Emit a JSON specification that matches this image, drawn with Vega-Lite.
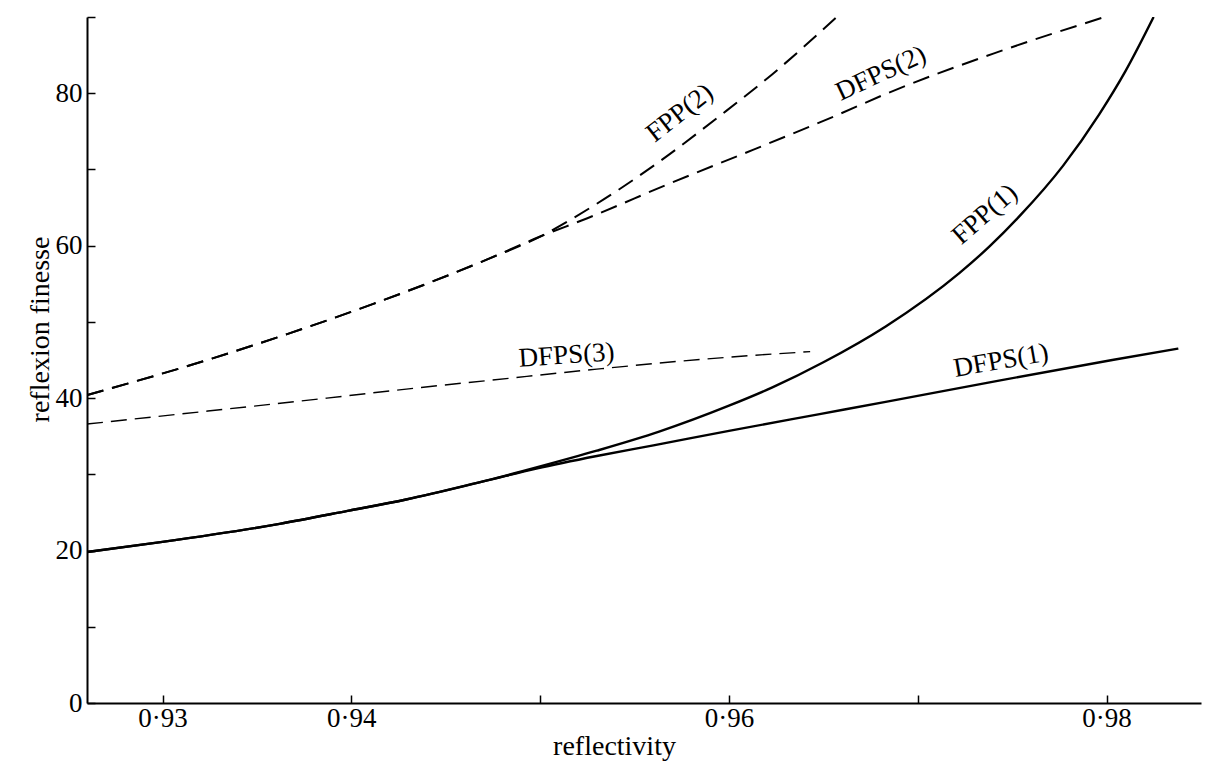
{
  "$schema": "https://vega.github.io/schema/vega-lite/v6.json",
  "width": 1114,
  "height": 686,
  "autosize": "none",
  "padding": {"left": 87, "top": 17, "right": 12, "bottom": 60},
  "background": "white",
  "config": {
    "view": {"stroke": null},
    "font": "Liberation Serif",
    "axis": {
      "grid": false,
      "domainColor": "black",
      "domainWidth": 2,
      "tickColor": "black",
      "tickWidth": 1.5,
      "tickSize": -8,
      "labelFont": "Liberation Serif",
      "labelFontSize": 27,
      "labelColor": "black",
      "titleFont": "Liberation Serif",
      "titleFontSize": 28,
      "titleFontWeight": "normal",
      "titleColor": "black"
    }
  },
  "datasets": {
    "curves": [
      {"series": "FPP(1)", "R": 0.9260, "F": 19.8},
      {"series": "FPP(1)", "R": 0.9299, "F": 21.1},
      {"series": "FPP(1)", "R": 0.9362, "F": 23.5},
      {"series": "FPP(1)", "R": 0.9398, "F": 25.2},
      {"series": "FPP(1)", "R": 0.9429, "F": 26.7},
      {"series": "FPP(1)", "R": 0.9472, "F": 29.2},
      {"series": "FPP(1)", "R": 0.9498, "F": 30.9},
      {"series": "FPP(1)", "R": 0.9530, "F": 33.1},
      {"series": "FPP(1)", "R": 0.9563, "F": 35.6},
      {"series": "FPP(1)", "R": 0.9600, "F": 39.0},
      {"series": "FPP(1)", "R": 0.9623, "F": 41.4},
      {"series": "FPP(1)", "R": 0.9650, "F": 44.7},
      {"series": "FPP(1)", "R": 0.9683, "F": 49.4},
      {"series": "FPP(1)", "R": 0.9722, "F": 56.4},
      {"series": "FPP(1)", "R": 0.9738, "F": 59.9},
      {"series": "FPP(1)", "R": 0.9754, "F": 63.9},
      {"series": "FPP(1)", "R": 0.9777, "F": 70.5},
      {"series": "FPP(1)", "R": 0.9796, "F": 77.2},
      {"series": "FPP(1)", "R": 0.9810, "F": 82.9},
      {"series": "FPP(1)", "R": 0.98249, "F": 90.0},

      {"series": "DFPS(1)", "R": 0.9260, "F": 19.8},
      {"series": "DFPS(1)", "R": 0.9299, "F": 21.1},
      {"series": "DFPS(1)", "R": 0.9362, "F": 23.5},
      {"series": "DFPS(1)", "R": 0.9398, "F": 25.2},
      {"series": "DFPS(1)", "R": 0.9429, "F": 26.7},
      {"series": "DFPS(1)", "R": 0.9472, "F": 29.2},
      {"series": "DFPS(1)", "R": 0.9498, "F": 30.75},
      {"series": "DFPS(1)", "R": 0.9530, "F": 32.4},
      {"series": "DFPS(1)", "R": 0.9560, "F": 33.8},
      {"series": "DFPS(1)", "R": 0.9600, "F": 35.7},
      {"series": "DFPS(1)", "R": 0.9648, "F": 37.9},
      {"series": "DFPS(1)", "R": 0.9683, "F": 39.5},
      {"series": "DFPS(1)", "R": 0.9743, "F": 42.3},
      {"series": "DFPS(1)", "R": 0.9803, "F": 45.0},
      {"series": "DFPS(1)", "R": 0.9838, "F": 46.5},

      {"series": "FPP(2)", "R": 0.9260, "F": 40.4},
      {"series": "FPP(2)", "R": 0.9325, "F": 45.1},
      {"series": "FPP(2)", "R": 0.9366, "F": 48.4},
      {"series": "FPP(2)", "R": 0.9412, "F": 52.4},
      {"series": "FPP(2)", "R": 0.9472, "F": 58.2},
      {"series": "FPP(2)", "R": 0.9500, "F": 61.2},
      {"series": "FPP(2)", "R": 0.9530, "F": 65.5},
      {"series": "FPP(2)", "R": 0.9563, "F": 71.0},
      {"series": "FPP(2)", "R": 0.9595, "F": 77.0},
      {"series": "FPP(2)", "R": 0.9623, "F": 82.5},
      {"series": "FPP(2)", "R": 0.9657, "F": 90.0},

      {"series": "DFPS(2)", "R": 0.9260, "F": 40.4},
      {"series": "DFPS(2)", "R": 0.9325, "F": 45.1},
      {"series": "DFPS(2)", "R": 0.9366, "F": 48.4},
      {"series": "DFPS(2)", "R": 0.9412, "F": 52.4},
      {"series": "DFPS(2)", "R": 0.9472, "F": 58.2},
      {"series": "DFPS(2)", "R": 0.9500, "F": 61.2},
      {"series": "DFPS(2)", "R": 0.9525, "F": 63.6},
      {"series": "DFPS(2)", "R": 0.9569, "F": 68.2},
      {"series": "DFPS(2)", "R": 0.9613, "F": 72.6},
      {"series": "DFPS(2)", "R": 0.9657, "F": 77.1},
      {"series": "DFPS(2)", "R": 0.9683, "F": 79.9},
      {"series": "DFPS(2)", "R": 0.9740, "F": 85.2},
      {"series": "DFPS(2)", "R": 0.9799, "F": 90.0},

      {"series": "DFPS(3)", "R": 0.9260, "F": 36.6},
      {"series": "DFPS(3)", "R": 0.9324, "F": 38.3},
      {"series": "DFPS(3)", "R": 0.9387, "F": 40.0},
      {"series": "DFPS(3)", "R": 0.9437, "F": 41.4},
      {"series": "DFPS(3)", "R": 0.9472, "F": 42.3},
      {"series": "DFPS(3)", "R": 0.9530, "F": 43.8},
      {"series": "DFPS(3)", "R": 0.9586, "F": 45.1},
      {"series": "DFPS(3)", "R": 0.9643, "F": 46.1}
    ],
    "labels": [
      {"label": "FPP(2)", "R": 0.9574, "F": 77.4},
      {"label": "DFPS(2)", "R": 0.96805, "F": 82.6},
      {"label": "FPP(1)", "R": 0.97355, "F": 64.1},
      {"label": "DFPS(1)", "R": 0.97441, "F": 44.9},
      {"label": "DFPS(3)", "R": 0.9514, "F": 45.6}
    ]
  },
  "encoding": {
    "x": {
      "field": "R",
      "type": "quantitative",
      "scale": {"domain": [0.926, 0.985], "nice": false, "zero": false},
      "axis": {
        "title": "reflectivity",
        "values": [0.93, 0.94, 0.95, 0.96, 0.97, 0.98],
        "labelExpr": "indexof(['0.95','0.97'], format(datum.value,'.2f')) >= 0 ? '' : replace(format(datum.value,'.2f'), '.', '·')",
        "labelPadding": 10,
        "titleX": 527,
        "titleY": 51,
        "titleAlign": "center",
        "titleBaseline": "alphabetic"
      }
    },
    "y": {
      "field": "F",
      "type": "quantitative",
      "scale": {"domain": [0, 90], "nice": false},
      "axis": {
        "title": "reflexion finesse",
        "values": [0, 10, 20, 30, 40, 50, 60, 70, 80, 90],
        "labelExpr": "(datum.value % 20 == 0 && datum.value < 90) ? datum.label : ''",
        "labelPadding": 13,
        "titleAngle": -90,
        "titleX": -47,
        "titleY": 312,
        "titleAlign": "center",
        "titleBaseline": "middle"
      }
    }
  },
  "layer": [
    {
      "data": {"name": "curves"},
      "transform": [{"filter": "datum.series == 'FPP(1)' || datum.series == 'DFPS(1)'"}],
      "mark": {"type": "line", "color": "black", "strokeWidth": 2.4, "interpolate": "monotone", "clip": true},
      "encoding": {"detail": {"field": "series"}}
    },
    {
      "data": {"name": "curves"},
      "transform": [{"filter": "datum.series == 'FPP(2)' || datum.series == 'DFPS(2)'"}],
      "mark": {"type": "line", "color": "black", "strokeWidth": 2, "strokeDash": [17, 9], "interpolate": "monotone", "clip": true},
      "encoding": {"detail": {"field": "series"}}
    },
    {
      "data": {"name": "curves"},
      "transform": [{"filter": "datum.series == 'DFPS(3)'"}],
      "mark": {"type": "line", "color": "black", "strokeWidth": 1.4, "strokeDash": [16, 8], "interpolate": "monotone", "clip": true},
      "encoding": {"detail": {"field": "series"}}
    },
    {
      "data": {"name": "labels"},
      "transform": [{"filter": "datum.label == 'FPP(2)'"}],
      "mark": {"type": "text", "angle": -38, "fontSize": 27, "font": "Liberation Serif", "color": "black", "align": "center", "baseline": "middle"},
      "encoding": {"text": {"field": "label"}}
    },
    {
      "data": {"name": "labels"},
      "transform": [{"filter": "datum.label == 'DFPS(2)'"}],
      "mark": {"type": "text", "angle": -25, "fontSize": 27, "font": "Liberation Serif", "color": "black", "align": "center", "baseline": "middle"},
      "encoding": {"text": {"field": "label"}}
    },
    {
      "data": {"name": "labels"},
      "transform": [{"filter": "datum.label == 'FPP(1)'"}],
      "mark": {"type": "text", "angle": -41, "fontSize": 27, "font": "Liberation Serif", "color": "black", "align": "center", "baseline": "middle"},
      "encoding": {"text": {"field": "label"}}
    },
    {
      "data": {"name": "labels"},
      "transform": [{"filter": "datum.label == 'DFPS(1)'"}],
      "mark": {"type": "text", "angle": -10, "fontSize": 27, "font": "Liberation Serif", "color": "black", "align": "center", "baseline": "middle"},
      "encoding": {"text": {"field": "label"}}
    },
    {
      "data": {"name": "labels"},
      "transform": [{"filter": "datum.label == 'DFPS(3)'"}],
      "mark": {"type": "text", "angle": -4, "fontSize": 27, "font": "Liberation Serif", "color": "black", "align": "center", "baseline": "middle"},
      "encoding": {"text": {"field": "label"}}
    }
  ]
}
